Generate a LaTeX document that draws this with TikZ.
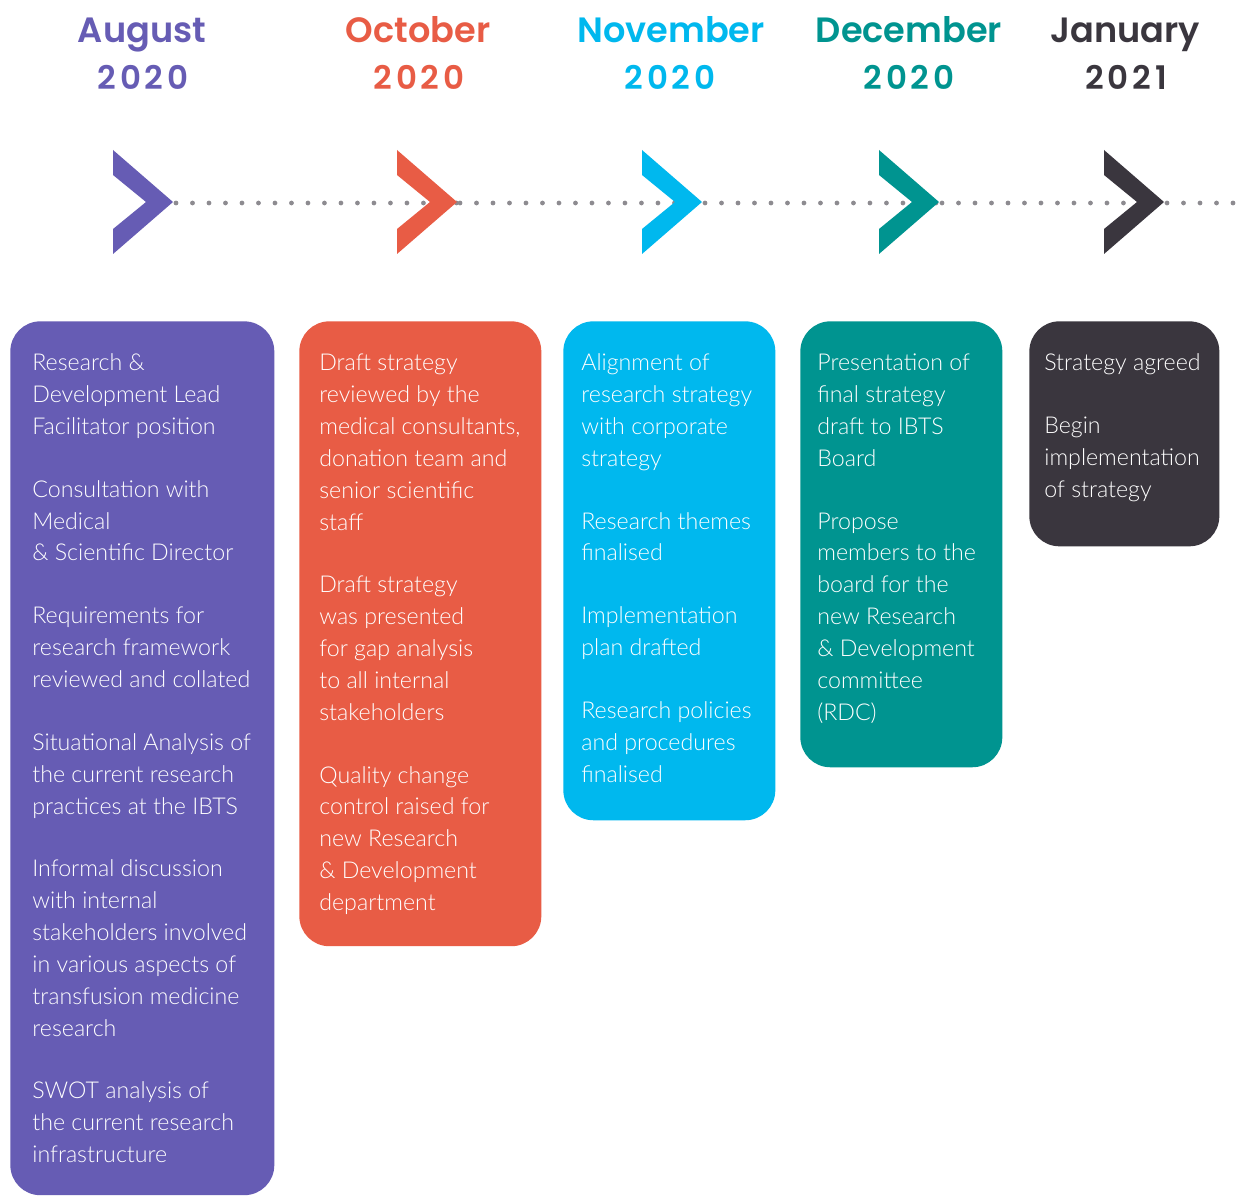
\documentclass[tikz,border=0pt]{standalone}
\usepackage{fontspec}
\setmainfont{Lato}[UprightFont=* Light]
\newfontfamily\headfont{Poppins}[UprightFont=* SemiBold]
\usetikzlibrary{calc,positioning}

\definecolor{augc}{HTML}{665CB4}
\definecolor{octc}{HTML}{E85C45}
\definecolor{novc}{HTML}{00B8EE}
\definecolor{decc}{HTML}{009490}
\definecolor{janc}{HTML}{3A363E}
\definecolor{dotgray}{HTML}{8D8B90}

\begin{document}
\begin{tikzpicture}[x=0.02cm, y=-0.02cm]
  % --- Styles (1 unit = 1 px of the layout) ---
    \tikzset{
      month/.style   = {font=\headfont\fontsize{20}{22}\selectfont, inner sep=0pt, anchor=base},
      yr/.style      = {font=\headfont\addfontfeature{LetterSpace=12}\fontsize{18.5}{20}\selectfont, inner sep=0pt, anchor=base},
      card/.style    = {rounded corners=0.6cm, inner sep=0pt, anchor=north west},
      txt/.style     = {text=white, align=left, inner sep=0pt, anchor=north west,
                        font=\fontsize{13.2}{18.14}\selectfont},
      dotline/.style = {draw=dotgray, line width=0.095cm, line cap=round, dash pattern=on 0pt off 0.33cm}
    }

    \fill[white] (0,0) rectangle (1251,1196);
    \useasboundingbox (0,0) rectangle (1251,1196);

    % --- Month headings ---
    \node[month, text=augc] (augm) at (142,43) {August};
    \node[yr,    text=augc] (augy) at (143,90) {2020};
    \node[month, text=octc] (octm) at (418,43) {October};
    \node[yr,    text=octc] (octy) at (419,90) {2020};
    \node[month, text=novc] (novm) at (671,43) {November};
    \node[yr,    text=novc] (novy) at (670,90) {2020};
    \node[month, text=decc] (decm) at (909,43) {December};
    \node[yr,    text=decc] (decy) at (909,90) {2020};
    \node[month, text=janc] (janm) at (1125,43) {January};
    \node[yr,    text=janc] (jany) at (1126,90) {2021};

    % --- Timeline: dotted line behind the chevrons ---
    \foreach \x/\n in {113/aug, 397/oct, 642/nov, 879/dec, 1104/jan}
      \coordinate (\n tip) at (\x+63,203);
    \coordinate (lineend) at (1247,203);

    \draw[dotline] (augtip) -- (octtip);
    \draw[dotline] (octtip) -- (novtip);
    \draw[dotline] (novtip) -- (dectip);
    \draw[dotline] (dectip) -- (jantip);
    \draw[dotline] (jantip) -- (lineend);

    \foreach \x/\c in {113/augc, 397/octc, 642/novc, 879/decc, 1104/janc}
      \fill[\c] (\x,150) -- ++(60,52) -- ++(-60,52) -- ++(0,-25) -- ++(33,-27) -- ++(-33,-27) -- cycle;

    % --- Cards ---
    \node[card, fill=augc, minimum width=5.28cm, minimum height=17.48cm] (augbox) at (10,321) {};
    \node[card, fill=octc, minimum width=4.84cm, minimum height=12.5cm]  (octbox) at (299,321) {};
    \node[card, fill=novc, minimum width=4.24cm, minimum height=9.98cm]  (novbox) at (563,321) {};
    \node[card, fill=decc, minimum width=4.04cm, minimum height=8.92cm]  (decbox) at (800,321) {};
    \node[card, fill=janc, minimum width=3.8cm,  minimum height=4.5cm]   (janbox) at (1029,321) {};

    % --- Card texts ---
    \node[txt] (augtxt) at ($(augbox.north west)+(22,27)$) {\strut Research \&\\
      Development Lead\\ Facilitator position\\[17.6pt]
      Consultation with\\ Medical\\ \& Scientific Director\\[17.6pt]
      Requirements for\\ research framework\\ reviewed and collated\\[17.6pt]
      Situational Analysis of\\ the current research\\ practices at the IBTS\\[17.6pt]
      Informal discussion\\ with internal\\ stakeholders involved\\ in various aspects of\\
      transfusion medicine\\ research\\[17.6pt]
      SWOT analysis of\\ the current research\\ infrastructure};

    \node[txt] (octtxt) at ($(octbox.north west)+(20,27)$) {\strut Draft strategy\\
      reviewed by the\\ medical consultants,\\ donation team and\\ senior scientific\\ staff\\[17.6pt]
      Draft strategy\\ was presented\\ for gap analysis\\ to all internal\\ stakeholders\\[17.6pt]
      Quality change\\ control raised for\\ new Research\\ \& Development\\ department};

    \node[txt] (novtxt) at ($(novbox.north west)+(18,27)$) {\strut Alignment of\\
      research strategy\\ with corporate\\ strategy\\[17.6pt]
      Research themes\\ finalised\\[17.6pt]
      Implementation\\ plan drafted\\[17.6pt]
      Research policies\\ and procedures\\ finalised};

    \node[txt] (dectxt) at ($(decbox.north west)+(17,27)$) {\strut Presentation of\\
      final strategy\\ draft to IBTS\\ Board\\[17.6pt]
      Propose\\ members to the\\ board for the\\ new Research\\ \& Development\\ committee\\ (RDC)};

    \node[txt] (jantxt) at ($(janbox.north west)+(15,27)$) {\strut Strategy agreed\\[17.6pt]
      Begin\\ implementation\\ of strategy};

\end{tikzpicture}
\end{document}
